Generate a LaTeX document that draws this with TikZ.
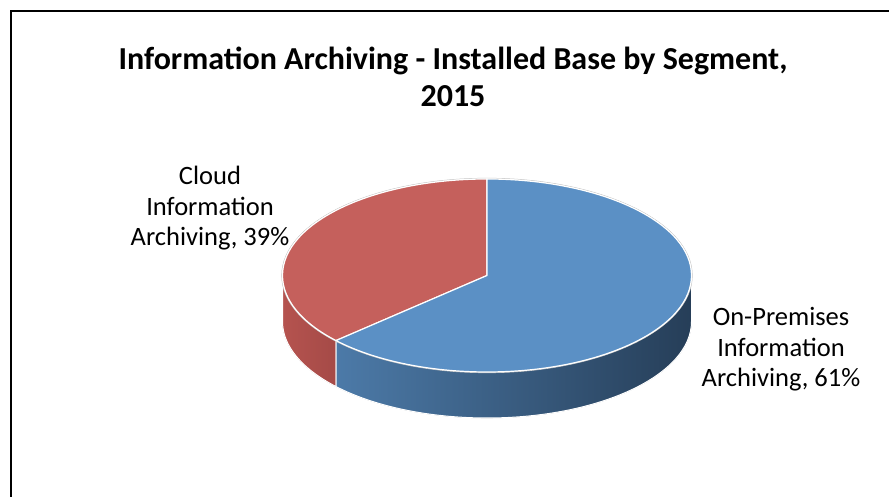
\documentclass[tikz,border=0pt]{standalone}
\usepackage{fontspec}
\setmainfont{Carlito}
\usetikzlibrary{calc}
\definecolor{blueTop}{HTML}{5B90C5}
\definecolor{redTop}{HTML}{C5605C}
\definecolor{blueSideL}{HTML}{4C7AA8}
\definecolor{blueSideM}{HTML}{37567A}
\definecolor{blueSideR}{HTML}{263E58}
\definecolor{redSideL}{HTML}{B5534F}
\definecolor{redSideR}{HTML}{A54A47}
\tikzset{
  frame/.style={draw=black, line width=1.6pt},
  slice/.style={draw=white, line width=1.2pt, line join=round},
  halo/.style={draw=black!25, line width=0.6pt},
  lbl/.style={font=\fontsize{26.5}{30.5}\selectfont, align=center, text=black, inner sep=0pt},
  ttl/.style={font=\fontsize{32}{37}\selectfont\bfseries, align=center, text=black, inner sep=0pt}
}
\begin{document}
\begin{tikzpicture}[x=1pt,y=1pt]
\useasboundingbox (0,0) rectangle (889,497);
\begin{scope}
\clip (0,0) rectangle (889,497);
\draw[frame] (11,-10) rectangle (900,486);
\end{scope}
% geometry
\def\cx{487}\def\cy{221.5}\def\rx{204.5}\def\ry{96.5}\def\dp{46}\def\sa{222.4}
\coordinate (C) at (\cx,\cy);
\coordinate (T) at (\cx,\cy+\ry);
\coordinate (S) at ($(C)+(\sa:\rx pt and \ry pt)$);
\coordinate (L) at (\cx-\rx,\cy);
\coordinate (R) at (\cx+\rx,\cy);
% outer halo
\draw[halo] (L) arc[start angle=180,end angle=360,x radius=\rx,y radius=\ry] -- ++(0,-\dp)
  arc[start angle=360,end angle=180,x radius=\rx,y radius=\ry] -- cycle;
% red side
\path[left color=redSideL, right color=redSideR, draw=white, line width=1pt]
  (L) arc[start angle=180,end angle=\sa,x radius=\rx,y radius=\ry] -- ++(0,-\dp)
  arc[start angle=\sa,end angle=180,x radius=\rx,y radius=\ry] -- cycle;
% blue side
\path[left color=blueSideL, middle color=blueSideM, right color=blueSideR, draw=white, line width=1pt]
  (S) arc[start angle=\sa,end angle=360,x radius=\rx,y radius=\ry] -- ++(0,-\dp)
  arc[start angle=360,end angle=\sa,x radius=\rx,y radius=\ry] -- cycle;
% tops
\draw[halo] (C) ellipse[x radius=\rx+0.8,y radius=\ry+0.8];
\path[fill=redTop, slice] (C) -- (T) arc[start angle=90,end angle=\sa,x radius=\rx,y radius=\ry] -- cycle;
\path[fill=blueTop, slice] (C) -- (S) arc[start angle=\sa,end angle=450,x radius=\rx,y radius=\ry] -- cycle;
% texts
\node[ttl] (title) at (453,420) {Information Archiving - Installed Base by Segment,\\2015};
\node[lbl] (cloud) at (210,291) {Cloud\\Information\\Archiving, 39\%};
\node[lbl] (onprem) at (781,150) {On-Premises\\Information\\Archiving, 61\%};
\end{tikzpicture}
\end{document}
